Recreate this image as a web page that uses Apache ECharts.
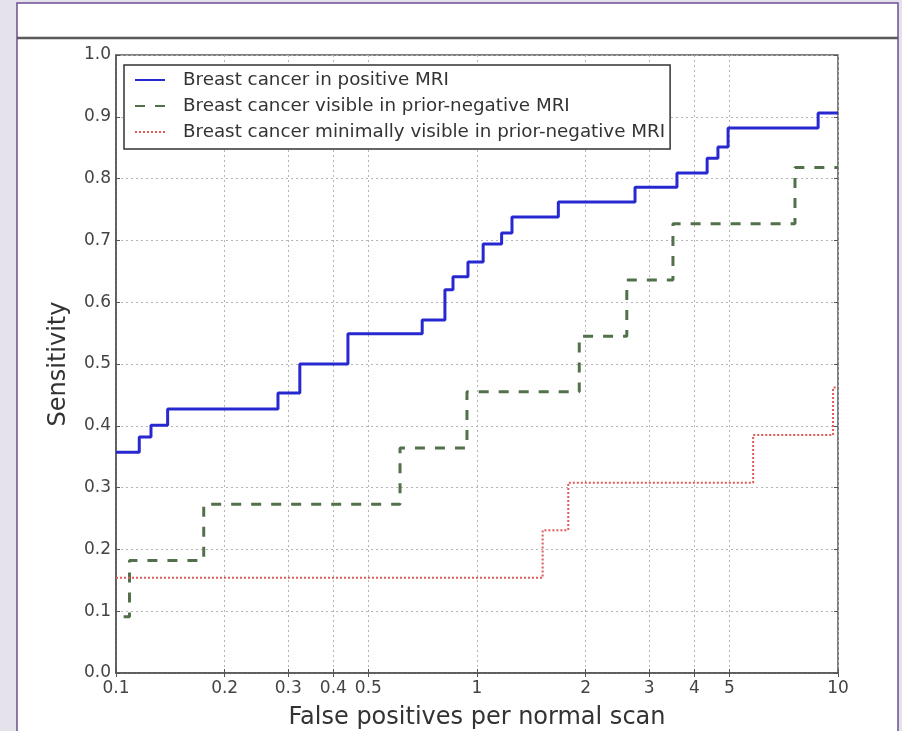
<!DOCTYPE html>
<html>
<head>
<meta charset="utf-8">
<script src="https://cdn.jsdelivr.net/npm/echarts@6/dist/echarts.min.js"></script>
<style>
html,body{margin:0;padding:0;background:#e6e2ec;}
#c{width:902px;height:731px;}
</style>
</head>
<body>
<div id="c"></div>
<script>
// ---- data ----
const xTickValues = [0.1, 0.2, 0.3, 0.4, 0.5, 1, 2, 3, 4, 5, 10];
const xTickLabels = ['0.1', '0.2', '0.3', '0.4', '0.5', '1', '2', '3', '4', '5', '10'];
const seriesNames = [
  'Breast cancer in positive MRI',
  'Breast cancer visible in prior-negative MRI',
  'Breast cancer minimally visible in prior-negative MRI'
];
const positiveX = [0.1, 0.116, 0.125, 0.139, 0.281, 0.323, 0.439, 0.705, 0.815, 0.858, 0.944, 1.04, 1.17, 1.25, 1.68, 2.74, 3.58, 4.34, 4.65, 4.96, 8.81, 10];
const positiveY = [0.357, 0.382, 0.401, 0.427, 0.453, 0.5, 0.549, 0.571, 0.62, 0.641, 0.665, 0.694, 0.712, 0.738, 0.762, 0.786, 0.809, 0.833, 0.851, 0.882, 0.906, 0.906];
const visibleX = [0.105, 0.109, 0.175, 0.612, 0.938, 1.92, 2.60, 3.49, 7.60, 10];
const visibleY = [0.091, 0.182, 0.273, 0.364, 0.455, 0.545, 0.636, 0.727, 0.818, 0.818];
const minimalX = [0.1, 1.52, 1.79, 5.82, 9.69, 10];
const minimalY = [0.154, 0.231, 0.308, 0.385, 0.462, 0.462];

function pairs(xs, ys) { return xs.map((x, i) => [x, ys[i]]); }

const FONT = 'DejaVu Sans';
const chart = echarts.init(document.getElementById('c'), null, {renderer: 'canvas'});

const gridLine = {show: true, lineStyle: {color: '#b4b4b4', width: 1, type: [2, 3]}};

chart.setOption({
  animation: false,
  backgroundColor: 'transparent',
  graphic: [
    {type: 'rect', z: -10, shape: {x: 17, y: 3, width: 881, height: 740},
     style: {fill: '#ffffff', stroke: '#6c4f8e', lineWidth: 1.5}},
    {type: 'line', z: -5, shape: {x1: 17, y1: 38, x2: 898, y2: 38},
     style: {stroke: '#5a5a5a', lineWidth: 2.5}}
  ],
  grid: {left: 116, right: 64, top: 55, bottom: 58, show: true, outerBoundsMode: 'none',
         containLabel: false,
         borderColor: '#555', borderWidth: 1.5, backgroundColor: 'transparent'},
  legend: {
    orient: 'vertical', left: 124, top: 65,
    backgroundColor: '#fff', borderColor: '#333', borderWidth: 1.5,
    padding: [6, 5, 8, 10], itemGap: 8, itemWidth: 30, itemHeight: 14,
    itemStyle: {opacity: 0},
    textStyle: {fontFamily: FONT, fontSize: 18.3, lineHeight: 18, color: '#333', padding: [0, 0, 0, 13]},
    data: seriesNames
  },
  xAxis: [{
    type: 'log', logBase: 10, min: 0.1, max: 10,
    name: 'False positives per normal scan', nameLocation: 'middle', nameGap: 33,
    nameTextStyle: {fontFamily: FONT, fontSize: 24, color: '#333'},
    axisLine: {show: true, lineStyle: {color: '#555', width: 1.5}},
    axisTick: {show: true, inside: true, length: 4, customValues: xTickValues, lineStyle: {color: '#555'}},
    axisLabel: {customValues: xTickValues, fontFamily: FONT, fontSize: 17, color: '#444', margin: 7,
      formatter: v => xTickLabels[xTickValues.findIndex(t => Math.abs(t - v) < 1e-9)] ?? ''},
    splitLine: gridLine,
    minorTick: {show: false}
  }, {
    type: 'log', logBase: 10, min: 0.1, max: 10, position: 'top',
    axisLine: {show: false},
    axisTick: {show: true, inside: true, length: 4, customValues: xTickValues, lineStyle: {color: '#555'}},
    axisLabel: {show: false}, splitLine: {show: false}
  }],
  yAxis: [{
    type: 'value', min: 0, max: 1, interval: 0.1,
    name: 'Sensitivity', nameLocation: 'middle', nameGap: 45,
    nameTextStyle: {fontFamily: FONT, fontSize: 24, color: '#333'},
    axisLine: {show: true, lineStyle: {color: '#555', width: 1.5}},
    axisTick: {show: true, inside: true, length: 4, lineStyle: {color: '#555'}},
    axisLabel: {fontFamily: FONT, fontSize: 17, color: '#444', margin: 5, formatter: v => v.toFixed(1)},
    splitLine: gridLine
  }, {
    type: 'value', min: 0, max: 1, interval: 0.1, position: 'right',
    axisLine: {show: false},
    axisTick: {show: true, inside: true, length: 4, lineStyle: {color: '#555'}},
    axisLabel: {show: false}, splitLine: {show: false}
  }],
  series: [{
    name: seriesNames[0], type: 'line', step: 'end', symbol: 'none',
    data: pairs(positiveX, positiveY),
    lineStyle: {color: '#2828d0', width: 3}, itemStyle: {color: '#2828d0'}
  }, {
    name: seriesNames[1], type: 'line', step: 'end', symbol: 'none',
    data: pairs(visibleX, visibleY),
    lineStyle: {color: '#52704a', width: 3, type: [10, 10]}, itemStyle: {color: '#52704a'}
  }, {
    name: seriesNames[2], type: 'line', step: 'end', symbol: 'none',
    data: pairs(minimalX, minimalY),
    lineStyle: {color: '#e05a5a', width: 2, type: [2, 2]}, itemStyle: {color: '#e05a5a'}
  }]
});
</script>
</body>
</html>
